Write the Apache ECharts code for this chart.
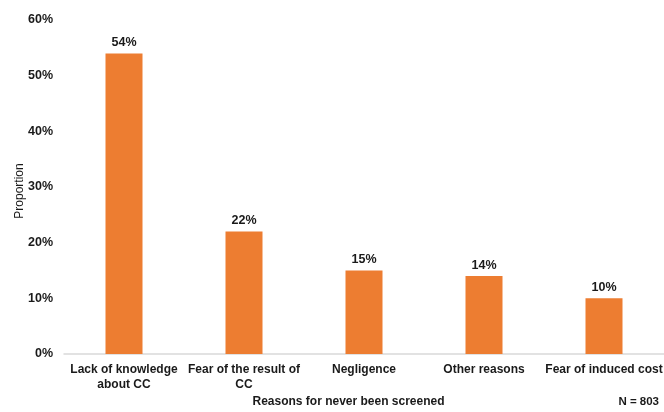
<!DOCTYPE html>
<html><head><meta charset="utf-8">
<script src="https://cdn.jsdelivr.net/npm/echarts@6/dist/echarts.min.js"></script>
<style>html,body{margin:0;padding:0;background:#fff}#c{width:664px;height:412px}</style>
</head><body><div id="c"></div>
<script>
const categories = ["Lack of knowledge\nabout CC", "Fear of the result of\nCC", "Negligence", "Other reasons", "Fear of induced cost"];
const values = [54, 22, 15, 14, 10];
const yTicks = [0, 10, 20, 30, 40, 50, 60];
const FONT = "Liberation Sans, Arial, sans-serif";
const chart = echarts.init(document.getElementById('c'));
chart.setOption({
  animation: false,
  textStyle: { fontFamily: FONT },
  grid: { left: 64, right: 0, top: 20, bottom: 58, containLabel: false, outerBoundsMode: 'none' },
  xAxis: {
    type: 'category',
    data: categories,
    axisLine: { lineStyle: { color: '#d9d9d9', width: 1.5 } },
    axisTick: { show: false },
    axisLabel: { color: '#1a1a1a', fontWeight: 'bold', fontSize: 12, fontFamily: FONT, margin: 8, lineHeight: 15, interval: 0 },
    name: 'Reasons for never been screened',
    nameLocation: 'middle',
    nameGap: 42,
    nameMoveOverlap: false,
    nameTextStyle: { color: '#1a1a1a', fontWeight: 'bold', fontSize: 12, fontFamily: FONT, padding: [0, 31, 0, 0] }
  },
  yAxis: {
    type: 'value',
    min: yTicks[0], max: yTicks[yTicks.length - 1], interval: 10,
    axisLine: { show: false },
    axisTick: { show: false },
    splitLine: { show: false },
    axisLabel: { formatter: '{value}%', color: '#1a1a1a', fontWeight: 'bold', fontSize: 12.5, fontFamily: FONT, margin: 11 },
    name: 'Proportion',
    nameLocation: 'middle',
    nameGap: 38,
    nameRotate: 90,
    nameMoveOverlap: false,
    nameTextStyle: { color: '#1a1a1a', fontSize: 12, fontFamily: FONT, padding: [0, 8, 0, 0] }
  },
  graphic: [{
    type: 'text', right: 5, top: 396,
    style: { text: 'N = 803', fill: '#1a1a1a', font: 'bold 11.5px ' + FONT }
  }],
  series: [{
    type: 'bar',
    data: values,
    barWidth: 37,
    itemStyle: { color: '#ED7D31' },
    label: { show: true, position: 'top', formatter: '{c}%', color: '#1a1a1a', fontWeight: 'bold', fontSize: 12.5, fontFamily: FONT, distance: 4 }
  }]
});
</script></body></html>
